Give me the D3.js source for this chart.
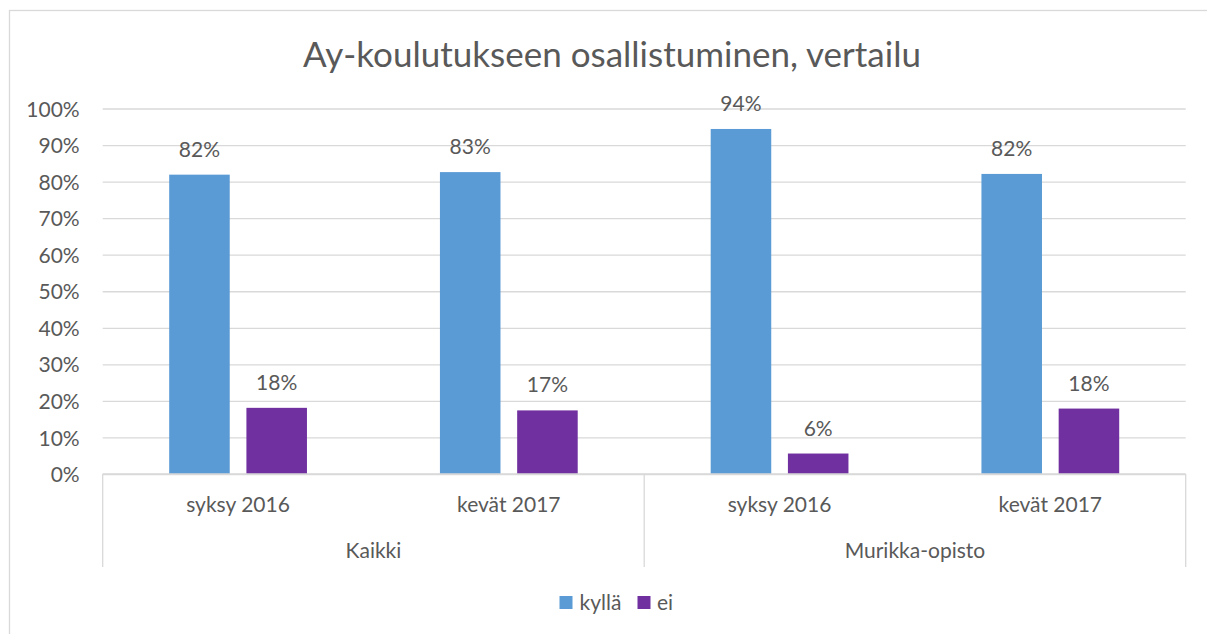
<!DOCTYPE html>
<html>
<head>
<meta charset="utf-8">
<script src="https://cdn.jsdelivr.net/npm/d3@7"></script>
<style>
  html, body { margin: 0; padding: 0; background: #fff; }
  svg { display: block; }
  text { font-family: Lato, "Open Sans", sans-serif; fill: #595959; }
</style>
</head>
<body>
<svg id="chart" width="1207" height="634"></svg>
<script>
// Participation in union training, comparison by group and term
const groups  = ["Kaikki", "Kaikki", "Murikka-opisto", "Murikka-opisto"];
const periods = ["syksy 2016", "kevät 2017", "syksy 2016", "kevät 2017"];
const seriesNames = ["kyllä", "ei"];
const kylla = [0.819, 0.826, 0.944, 0.821];
const ei    = [0.181, 0.174, 0.056, 0.179];
const yTicks = [0, 0.1, 0.2, 0.3, 0.4, 0.5, 0.6, 0.7, 0.8, 0.9, 1.0];
const colors = ["#5B9BD5", "#7030A0"];

const svg = d3.select("#chart");
const W = 1207, H = 634;
const margin = { left: 102.7, right: 1185.7, top: 108.5, bottom: 474 };
const fontSize = "21px";

// outer frame
svg.append("rect")
  .attr("x", 9.5).attr("y", 10.5)
  .attr("width", W + 20).attr("height", H + 20)
  .attr("fill", "#fff").attr("stroke", "#d9d9d9").attr("stroke-width", 1.3);

// title
svg.append("text")
  .attr("x", 612).attr("y", 67)
  .attr("text-anchor", "middle")
  .style("font-size", "35px")
  .text("Ay-koulutukseen osallistuminen, vertailu");

const keys = groups.map((g, i) => g + "|" + periods[i]);
const rows = keys.map((k, i) => ({ key: k, group: groups[i], period: periods[i], values: [kylla[i], ei[i]] }));

const x0 = d3.scaleBand().domain(keys).range([margin.left, margin.right]).padding(0);
const x1 = d3.scaleBand().domain(seriesNames).range([0, x0.bandwidth()])
  .paddingInner(0.216).paddingOuter(0.861);
const y = d3.scaleLinear().domain([0, 1]).range([margin.bottom, margin.top]);

// gridlines + y axis labels
const yAxis = d3.axisLeft(y).tickValues(yTicks).tickFormat(d3.format(".0%"))
  .tickSize(-(margin.right - margin.left)).tickPadding(23);
const gy = svg.append("g").attr("transform", `translate(${margin.left},0)`).call(yAxis);
gy.select(".domain").remove();
gy.selectAll(".tick line").attr("stroke", "#d9d9d9").attr("stroke-width", 1.3);
gy.selectAll(".tick text").style("font-size", fontSize).attr("fill", "#595959").attr("dy", "0.36em");

// bars
const gBars = svg.append("g");
rows.forEach(r => {
  seriesNames.forEach((s, j) => {
    const v = r.values[j];
    const bx = x0(r.key) + x1(s);
    gBars.append("rect")
      .attr("x", bx).attr("width", x1.bandwidth())
      .attr("y", y(v)).attr("height", y(0) - y(v))
      .attr("fill", colors[j]);
    gBars.append("text")
      .attr("x", bx + x1.bandwidth() / 2)
      .attr("y", y(v) - 18)
      .attr("text-anchor", "middle")
      .style("font-size", fontSize)
      .text(d3.format(".0%")(v));
  });
});

// category axis
const axisG = svg.append("g");
axisG.append("line")
  .attr("x1", margin.left).attr("x2", margin.right)
  .attr("y1", y(0)).attr("y2", y(0))
  .attr("stroke", "#d9d9d9").attr("stroke-width", 1.3);

rows.forEach(r => {
  axisG.append("text")
    .attr("x", x0(r.key) + x0.bandwidth() / 2)
    .attr("y", 511.5)
    .attr("text-anchor", "middle")
    .style("font-size", fontSize)
    .text(r.period);
});

// group labels and dividers
const groupNames = Array.from(new Set(groups));
const groupSpans = groupNames.map(g => {
  const ks = rows.filter(r => r.group === g).map(r => r.key);
  return { name: g, x0: x0(ks[0]), x1: x0(ks[ks.length - 1]) + x0.bandwidth() };
});
const dividers = [groupSpans[0].x0, ...groupSpans.map(s => s.x1)];
dividers.forEach(dx => {
  axisG.append("line")
    .attr("x1", dx).attr("x2", dx)
    .attr("y1", y(0)).attr("y2", 567)
    .attr("stroke", "#d9d9d9").attr("stroke-width", 1.3);
});
groupSpans.forEach(s => {
  axisG.append("text")
    .attr("x", (s.x0 + s.x1) / 2)
    .attr("y", 558)
    .attr("text-anchor", "middle")
    .style("font-size", fontSize)
    .text(s.name);
});

// legend
const legend = svg.append("g");
const legendItems = [
  { name: seriesNames[0], color: colors[0], sx: 559.5, tx: 579.5 },
  { name: seriesNames[1], color: colors[1], sx: 637.5, tx: 657 }
];
legendItems.forEach(d => {
  legend.append("rect")
    .attr("x", d.sx).attr("y", 596).attr("width", 13).attr("height", 13)
    .attr("fill", d.color);
  legend.append("text")
    .attr("x", d.tx).attr("y", 609.5)
    .style("font-size", fontSize)
    .text(d.name);
});
</script>
</body>
</html>
